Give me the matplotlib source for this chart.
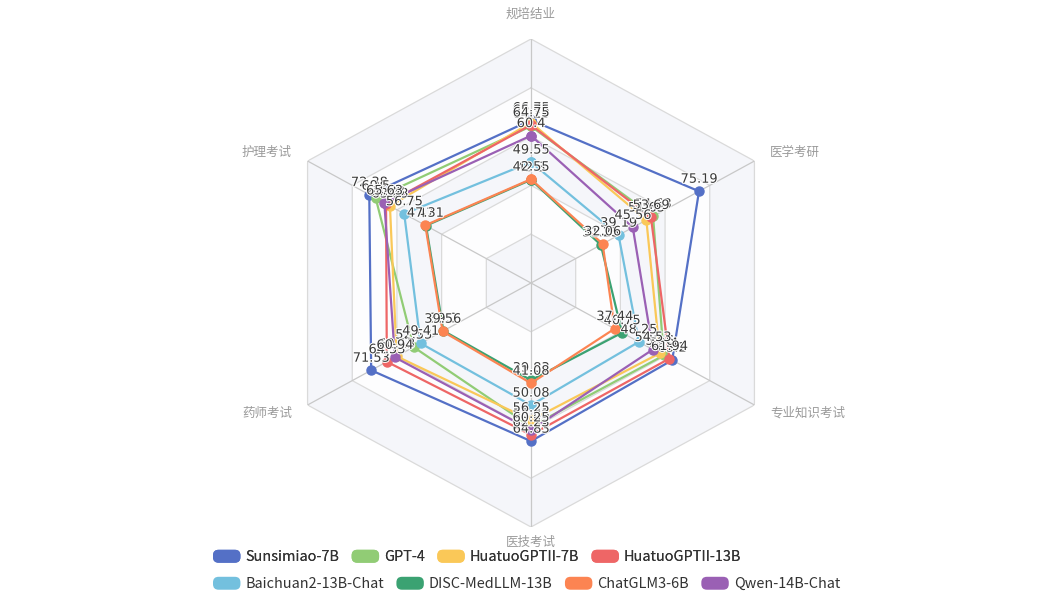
import numpy as np
import matplotlib
matplotlib.use("Agg")
import matplotlib.pyplot as plt
import matplotlib.patheffects as pe
from matplotlib.patches import Patch, FancyBboxPatch
from matplotlib.legend_handler import HandlerPatch

plt.rcParams['font.family'] = ['Noto Sans CJK SC', 'DejaVu Sans']

indicators = ['规培结业', '医学考研', '专业知识考试', '医技考试', '药师考试', '护理考试']
max_value = 100

series_names = ['Sunsimiao-7B', 'GPT-4', 'HuatuoGPTII-7B', 'HuatuoGPTII-13B',
                'Baichuan2-13B-Chat', 'DISC-MedLLM-13B', 'ChatGLM3-6B', 'Qwen-14B-Chat']
sunsimiao = [66.75, 75.19, 63.2, 64.83, 71.53, 72.38]
gpt4 = [64.25, 54.63, 59.4, 58.83, 52.53, 69.5]
huatuo7b = [65.75, 51.63, 57.6, 56.25, 60.13, 63.13]
huatuo13b = [64.75, 53.69, 61.94, 62.23, 64.53, 64.88]
baichuan = [49.55, 39.19, 48.25, 50.08, 49.41, 56.75]
disc = [42.3, 31.25, 40.75, 39.83, 39.2, 47.0]
chatglm = [42.55, 32.06, 37.44, 41.08, 39.56, 47.31]
qwen = [60.4, 45.56, 54.53, 60.25, 60.94, 65.63]
series_values = [sunsimiao, gpt4, huatuo7b, huatuo13b, baichuan, disc, chatglm, qwen]

colors = ['#5470c6', '#91cc75', '#fac858', '#ee6666', '#73c0de', '#3ba272', '#fc8452', '#9a60b4']

W, H = 1045, 607
fig = plt.figure(figsize=(W / 100, H / 100), dpi=100)
cx, cy, rx, ry = 531, 283, 258, 244
ax = fig.add_axes([(cx - rx) / W, (H - cy - ry) / H, 2 * rx / W, 2 * ry / H], projection='polar')
ax.set_aspect('auto')
ax.set_theta_offset(np.pi / 2)
ax.set_theta_direction(-1)
ax.set_ylim(0, max_value)
ax.spines['polar'].set_visible(False)
ax.grid(False)
ax.set_xticks([])
ax.set_yticks([])
ax.patch.set_alpha(0)

n = len(indicators)
angles = np.linspace(0, 2 * np.pi, n, endpoint=False)
ang_c = np.concatenate([angles, angles[:1]])

# split areas and lines
levels = np.linspace(max_value, max_value / 5, 5)
band_colors = ['#f5f6fa', '#fdfdfe']
for i, lv in enumerate(levels):
    ax.fill(ang_c, [lv] * (n + 1), color=band_colors[i % 2], zorder=0.5, lw=0)
for lv in levels:
    ax.plot(ang_c, [lv] * (n + 1), color='#dadada', lw=0.9, zorder=1)
for a in angles:
    ax.plot([a, a], [0, max_value], color='#c8c8c8', lw=0.9, zorder=1)

# axis names
name_r = [107.5, 107, 107, 106.5, 107, 107]
has = ['center', 'left', 'left', 'center', 'right', 'right']
vas = ['bottom', 'center', 'center', 'center', 'center', 'center']
for a, name, r, h, v in zip(angles, indicators, name_r, has, vas):
    ax.text(a, r, name, ha=h, va=v, fontsize=9, color='#9a9a9a')

# series
for name, vals, col in zip(series_names, series_values, colors):
    v = np.array(vals + vals[:1])
    ax.plot(ang_c, v, color=col, lw=1.6, marker='o', markersize=6.5,
            markerfacecolor=col, markeredgecolor=col, zorder=3, clip_on=False)
for name, vals, col in zip(series_names, series_values, colors):
    for a, val in zip(angles, vals):
        ax.annotate(f'{val:g}', (a, val), xytext=(0, 4), textcoords='offset points',
                    ha='center', va='bottom', fontsize=9.3, color='#3a3a3a',
                    family=['DejaVu Sans'], zorder=5,
                    path_effects=[pe.withStroke(linewidth=1.5, foreground='white')])


class RoundHandler(HandlerPatch):
    def create_artists(self, legend, orig_handle, xdescent, ydescent, width, height, fontsize, trans):
        p = FancyBboxPatch((-xdescent, -ydescent), width, height,
                           boxstyle='round,pad=0,rounding_size=4',
                           fc=orig_handle.get_facecolor(), ec='none', transform=trans)
        return [p]


handles = [Patch(facecolor=c, label=nm) for nm, c in zip(series_names, colors)]
common = dict(frameon=False, ncol=4, fontsize=10.4, handlelength=1.9, handleheight=1.0,
              handletextpad=0.35, columnspacing=0.85, borderpad=0, borderaxespad=0,
              handler_map={Patch: RoundHandler()}, labelcolor='#333333')
leg1 = fig.legend(handles=handles[:4], loc='center left', bbox_to_anchor=(213 / W, 1 - 557 / H), **common)
fig.add_artist(leg1)
leg2 = fig.legend(handles=handles[4:], loc='center left', bbox_to_anchor=(213 / W, 1 - 584 / H), **common)

fig.savefig('out.png', dpi=100, facecolor='white')
